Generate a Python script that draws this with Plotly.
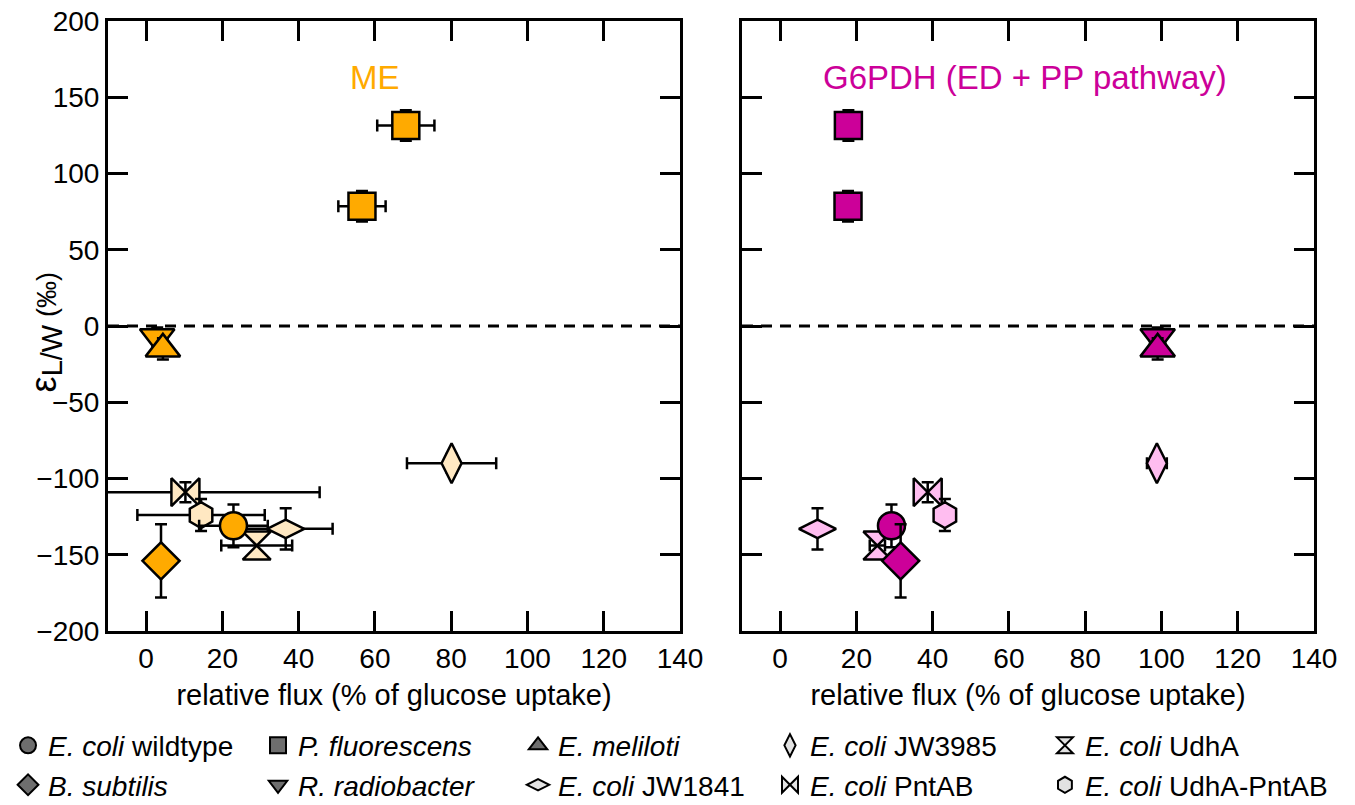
import plotly.graph_objects as go

# ---------------- data ----------------
strains = ["<i>E. coli</i> wildtype", "<i>P. fluorescens</i>", "<i>E. meliloti</i>",
           "<i>E. coli</i> JW3985", "<i>E. coli</i> UdhA",
           "<i>B. subtilis</i>", "<i>R. radiobacter</i>", "<i>E. coli</i> JW1841",
           "<i>E. coli</i> PntAB", "<i>E. coli</i> UdhA-PntAB"]
symbols = ["circle", "square", "triangle-up", "diamond-tall", "hourglass",
           "diamond", "triangle-down", "diamond-wide", "bowtie", "hexagon"]
sizes = [27, 27, 30, 28.5, 28, 28.5, 30, 26.5, 28, 26]
is_mutant = [False, False, False, True, True, False, False, True, True, True]

# isotope fractionation epsilon L/W (permil), shared by both panels
eps = [[-131], [131.5, 78.5], [-15], [-90], [-144], [-154], [-7], [-133], [-109], [-124]]
eps_err = [[14], [10, 10], [7], [6], [8], [24], [6], [13.5], [6.5], [10.5]]
# relative flux through malic enzyme (% of glucose uptake)
me_flux = [[22.9], [68.1, 56.6], [4.4], [80.1], [29.0], [3.9], [2.9], [36.6], [10.3], [14.4]]
me_err = [[9], [7.5, 6.2], [1], [11.7], [9.3], [1], [1], [12.3], [35.2], [16.7]]
# relative flux through G6PDH (ED + PP pathway)
g6p_flux = [[29.2], [17.9, 17.8], [99.0], [98.8], [25.5], [31.6], [99.0], [9.8], [38.7], [43.2]]
g6p_err = [[2], [2, 2], [2], [2.6], [2], [1], [2], [2], [2.5], [1]]

panel_titles = ["ME", "G6PDH (ED + PP pathway)"]
x_ticks = [0, 20, 40, 60, 80, 100, 120, 140]
y_ticks = [-200, -150, -100, -50, 0, 50, 100, 150, 200]

# ---------------- styling ----------------
FONT = "Liberation Sans, Arial, sans-serif"
panel_colors = [("#FFAA00", "#FFE8C2"), ("#CC0099", "#FFBDF0")]
legend_colors = ("#6E6E6E", "#E2E2E2")
draw_order = [6, 2, 1, 3, 7, 4, 8, 9, 0, 5]
legend_ids = ["legend", "legend2", "legend3", "legend4", "legend5"]
legend_x = [-0.0829, 0.1244, 0.3400, 0.5489, 0.7769]

fig = go.Figure()

panels = [(me_flux, me_err, "x", "y"), (g6p_flux, g6p_err, "x2", "y2")]
for p, (flux, ferr, xa, ya) in enumerate(panels):
    strong, light = panel_colors[p]
    for i in draw_order:
        fig.add_trace(go.Scatter(
            x=flux[i], y=eps[i], xaxis=xa, yaxis=ya, mode="markers",
            showlegend=False, hoverinfo="skip",
            marker=dict(symbol=symbols[i], size=sizes[i],
                        color=light if is_mutant[i] else strong,
                        line=dict(color="black", width=2.5)),
            error_x=dict(type="data", array=ferr[i], visible=True,
                         color="black", thickness=2.5, width=6),
            error_y=dict(type="data", array=eps_err[i], visible=True,
                         color="black", thickness=2.5, width=6),
        ))

# legend-only entries (grey markers), one legend per column, two rows each
n_cols = len(legend_ids)
for i in range(len(strains)):
    fig.add_trace(go.Scatter(
        x=[None], y=[None], mode="markers", name=strains[i], showlegend=True,
        legend=legend_ids[i % n_cols],
        marker=dict(symbol=symbols[i], size=sizes[i],
                    color=legend_colors[1] if is_mutant[i] else legend_colors[0],
                    line=dict(color="black", width=2)),
    ))

axis_common = dict(showline=True, linecolor="black", linewidth=3, mirror="ticks",
                   ticks="inside", ticklen=20, tickwidth=3, tickcolor="black",
                   showgrid=False, zeroline=False, automargin=False,
                   ticklabeloverflow="allow",
                   tickfont=dict(family=FONT, size=28, color="black"))
xtitle = dict(text="relative flux (% of glucose uptake)", font=dict(size=29), standoff=13)

legend_style = dict(orientation="v", xanchor="left", y=-0.147, yanchor="top",
                    itemwidth=30, font=dict(family=FONT, size=28, color="black"),
                    bgcolor="rgba(0,0,0,0)", traceorder="normal", tracegroupgap=0)

# the page body adds an 8px offset, so the figure is sized to the visible area
fig.update_layout(
    width=1347, height=797,
    margin=dict(l=100, r=41, t=13, b=174, autoexpand=False),
    paper_bgcolor="white", plot_bgcolor="white",
    font=dict(family=FONT, size=28, color="black"),
    xaxis=dict(domain=[0, 0.4743], range=[-10, 140], tickvals=x_ticks,
               title=xtitle, **axis_common),
    yaxis=dict(domain=[0, 1], range=[-200, 200], tickvals=y_ticks,
               anchor="x", **axis_common),
    xaxis2=dict(domain=[0.5257, 1], range=[-10, 140], tickvals=x_ticks,
                anchor="y2", title=xtitle, **axis_common),
    yaxis2=dict(domain=[0, 1], range=[-200, 200], tickvals=y_ticks, anchor="x2",
                showticklabels=False, **axis_common),
)
for lid, lx in zip(legend_ids, legend_x):
    fig.update_layout({lid: dict(x=lx, **legend_style)})

# dashed zero lines
for xa, ya in [("x", "y"), ("x2", "y2")]:
    fig.add_shape(type="line", xref=f"{xa} domain", yref=ya, x0=0, x1=1, y0=0, y1=0,
                  line=dict(color="black", width=3, dash="11px,8px"), layer="below")

# panel titles
title_pos = [0.467, 0.495]
for p, (xa, ya) in enumerate([("x", "y"), ("x2", "y2")]):
    fig.add_annotation(text=panel_titles[p], xref=f"{xa} domain", yref=f"{ya} domain",
                       x=title_pos[p], y=0.908, xanchor="center", yanchor="middle",
                       showarrow=False,
                       font=dict(family=FONT, size=33, color=panel_colors[p][0]))

# y-axis title
fig.add_annotation(
    text="<span style='font-size:36px'>ε</span><sub><span style='font-size:29px'>L/W</span></sub>"
         " <span style='font-size:27px'>(‰)</span>",
    xref="paper", yref="paper", x=-0.052, y=0.49, xanchor="center", yanchor="middle",
    textangle=-90, showarrow=False,
    font=dict(family=FONT, size=28, color="black"))

fig.write_html("out.html")
